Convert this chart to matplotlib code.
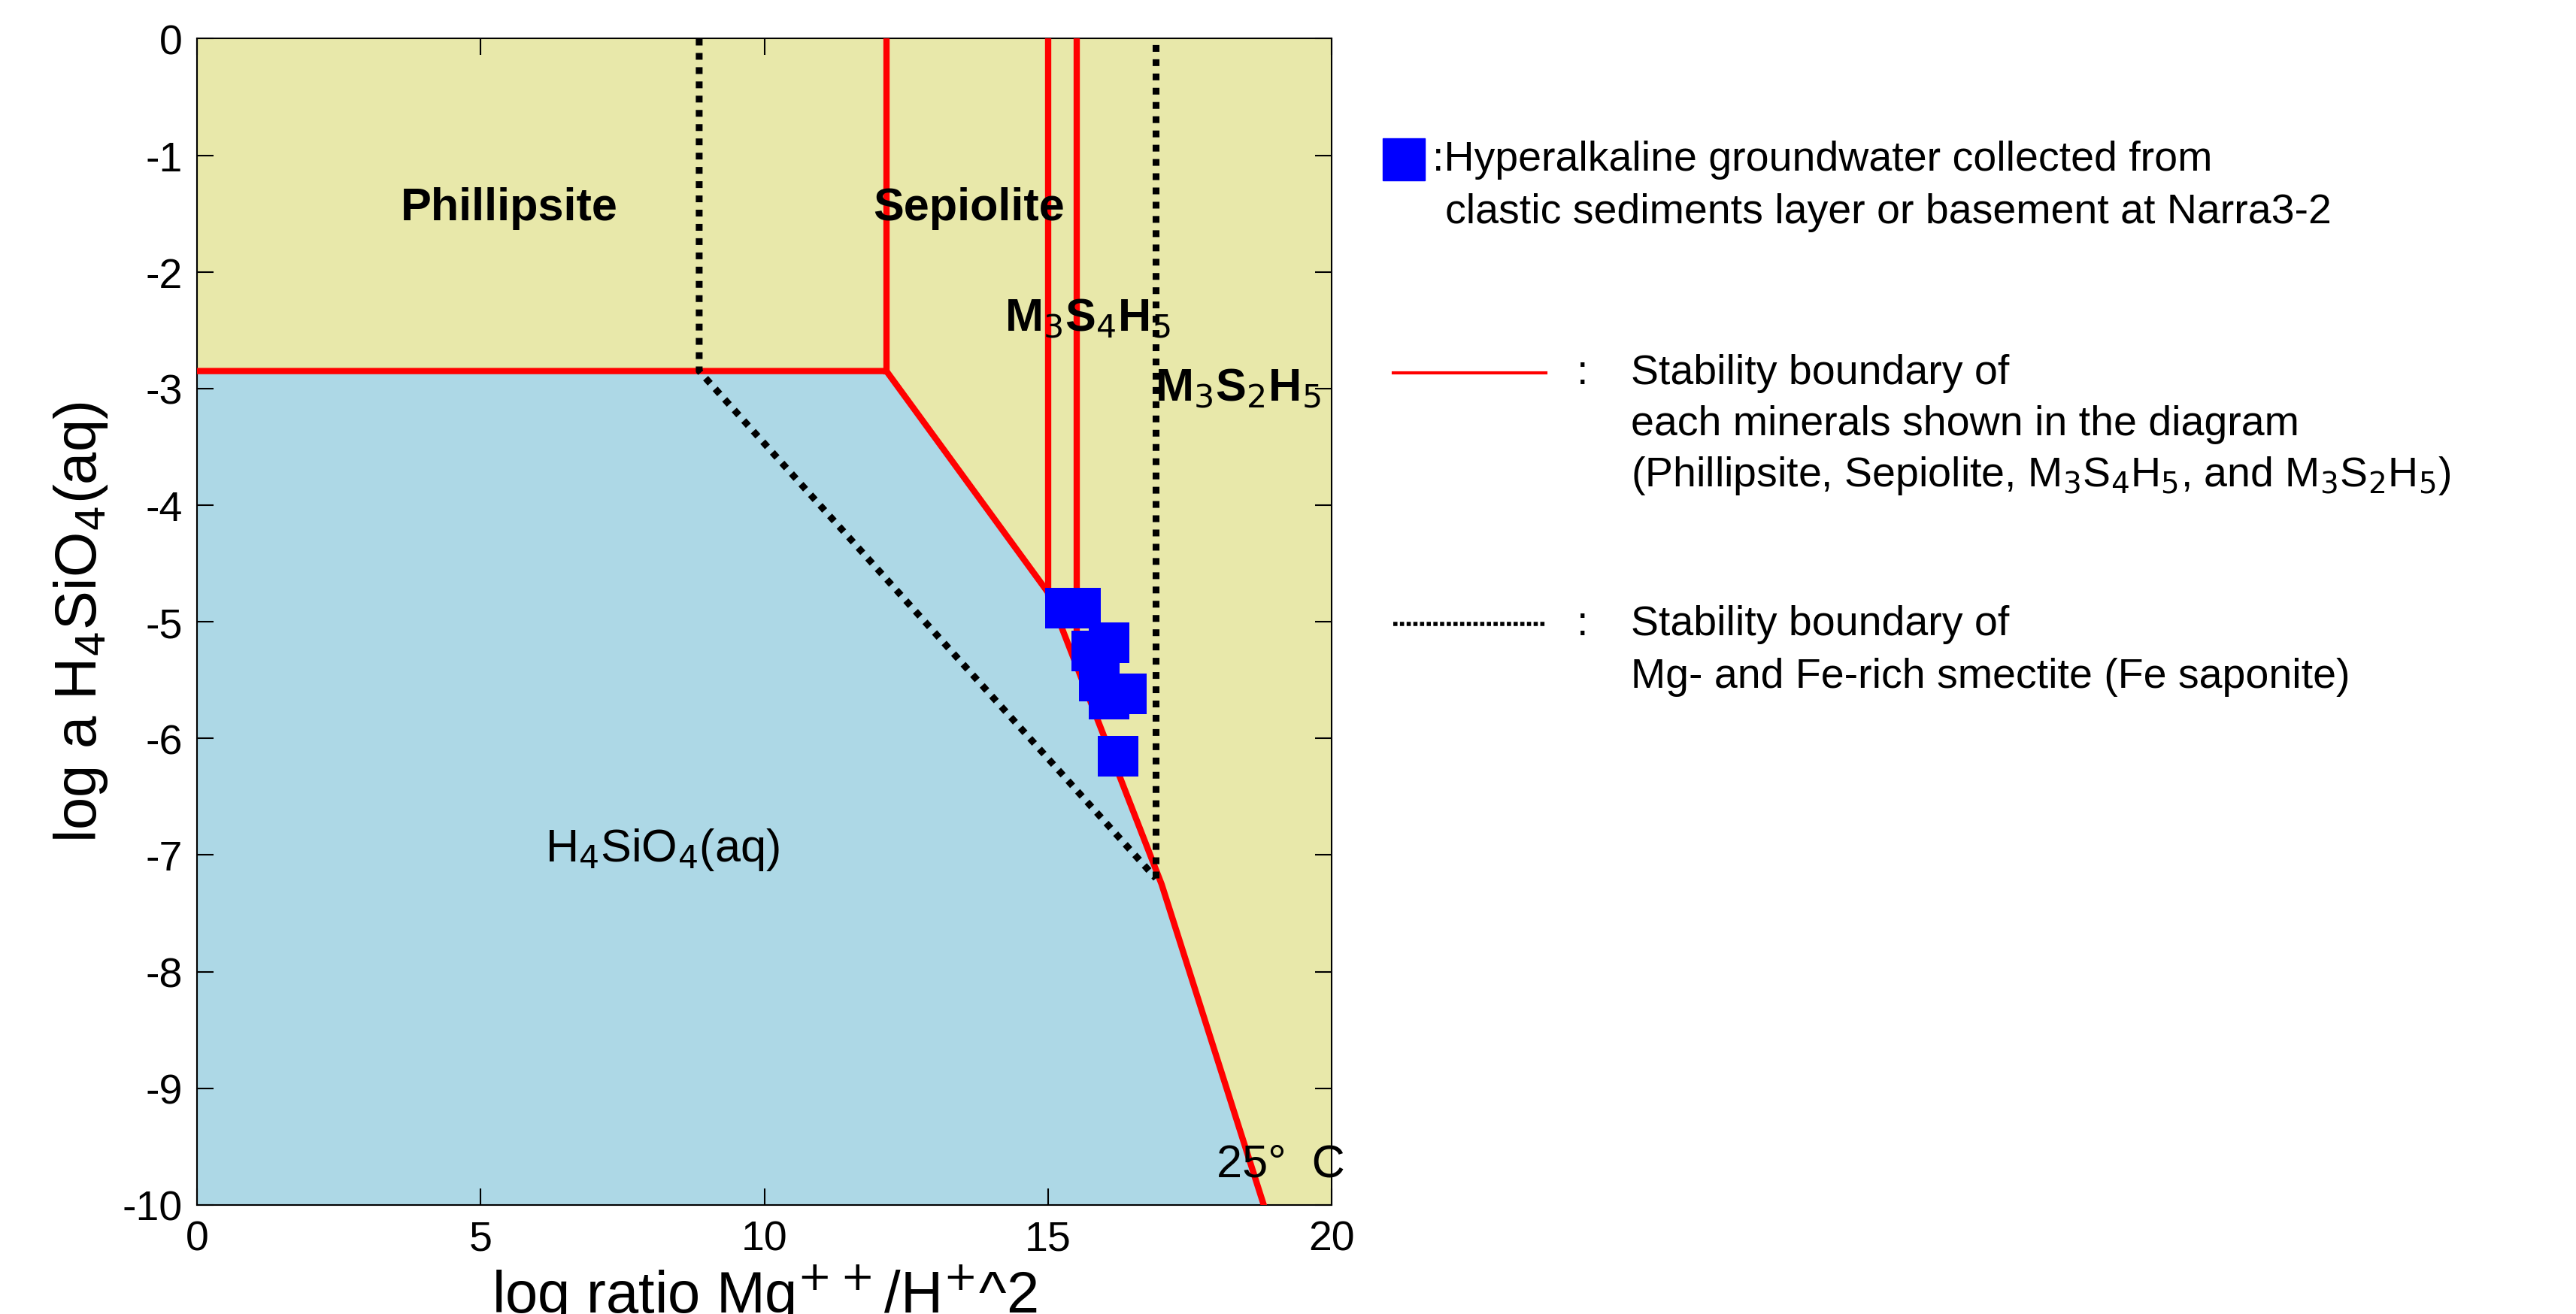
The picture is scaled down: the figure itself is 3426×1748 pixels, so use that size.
import matplotlib.pyplot as plt
from matplotlib.lines import Line2D

plt.rcParams['font.family'] = ['Liberation Sans', 'DejaVu Sans']
plt.rcParams['axes.unicode_minus'] = False

# boundary of the H4SiO4(aq) field (red)
bound_x = [0, 12.15, 15.0, 17.0, 18.8]
bound_y = [-2.85, -2.85, -4.75, -7.25, -10.0]
# other red boundaries (vertical)
sep_x, sep_y = [12.15, 12.15], [0, -2.85]
m34_x, m34_y = [15.0, 15.0], [0, -4.75]
m32_x, m32_y = [15.5, 15.5], [0, -5.36]
# smectite boundaries (dotted)
sm_x = [8.85, 8.85, 16.9, 16.9]
sm_y = [0, -2.85, -7.2, 0]
# groundwater samples
gw_x = [15.3, 15.57, 16.07, 15.77, 15.9, 16.38, 16.07, 16.23]
gw_y = [-4.88, -4.88, -5.18, -5.25, -5.51, -5.62, -5.66, -6.15]

fig = plt.figure(figsize=(34.26, 17.49), dpi=100)
ax = fig.add_axes([0.0765, 0.083, 0.4405, 0.887])

ax.fill_between([0, 20], -10, 0, color='#e8e8aa', zorder=0)
ax.fill(bound_x + [0], bound_y + [-10], color='#add8e6', zorder=1, lw=0)

red = dict(color='#ff0000', lw=6, zorder=3)
ax.plot(bound_x, bound_y, **red)
ax.plot(sep_x, sep_y, **red)
ax.plot(m34_x, m34_y, **red)
ax.plot(m32_x, m32_y, **red)
dot = dict(color='black', ls=(0, (1, 1.1)), lw=6.5, zorder=4)
ax.plot(sm_x[:3], sm_y[:3], **dot)
ax.plot(sm_x[2:], sm_y[2:], **dot)
ax.scatter(gw_x, gw_y, marker='s', s=39**2, color='#0000ff', zorder=5, lw=0)

bold = dict(fontsize=44, fontweight='bold', ha='center', va='center')
ax.text(5.5, -1.45, 'Phillipsite', **bold)
ax.text(13.6, -1.45, 'Sepiolite', **bold)
ax.text(15.7, -2.4, r'M$_3$S$_4$H$_5$', **bold)
ax.text(18.35, -3.0, r'M$_3$S$_2$H$_5$', **bold)
ax.text(8.2, -6.95, r'H$_4$SiO$_4$(aq)', fontsize=44, ha='center', va='center')
ax.text(19.1, -9.65, '25°  C', fontsize=44, ha='center', va='center')

ax.set_xlim(0, 20)
ax.set_ylim(-10, 0)
ax.set_xticks([0, 5, 10, 15, 20])
ax.set_yticks(range(-10, 1))
ax.tick_params(direction='in', top=True, right=True, length=16, width=1.5, labelsize=40, pad=14)
ax.set_xlabel(r'log ratio Mg$^{++}$/H$^{+}$^2', fontsize=56, labelpad=4)
ax.set_ylabel(r'log a H$_4$SiO$_4$(aq)', fontsize=56, labelpad=12)
for s in ax.spines.values():
    s.set_linewidth(1.5)

# legend drawn as text on the right
fs = 40
fig.add_artist(Line2D([0.545], [0.878], marker='s', ms=40, color='#0000ff', lw=0))
fig.text(0.556, 0.878, ':Hyperalkaline groundwater collected from', fontsize=fs, va='center')
fig.text(0.561, 0.838, 'clastic sediments layer or basement at Narra3-2', fontsize=fs, va='center')
fig.add_artist(Line2D([0.541, 0.600], [0.716, 0.716], color='#ff0000', lw=3))
fig.text(0.612, 0.716, ':', fontsize=fs, va='center')
fig.text(0.633, 0.716, 'Stability boundary of', fontsize=fs, va='center')
fig.text(0.633, 0.677, 'each minerals shown in the diagram', fontsize=fs, va='center')
fig.text(0.633, 0.638, r'(Phillipsite, Sepiolite, M$_3$S$_4$H$_5$, and M$_3$S$_2$H$_5$)', fontsize=fs, va='center')
fig.add_artist(Line2D([0.541, 0.600], [0.525, 0.525], color='black', lw=4, ls=(0, (1, 0.6))))
fig.text(0.612, 0.525, ':', fontsize=fs, va='center')
fig.text(0.633, 0.525, 'Stability boundary of', fontsize=fs, va='center')
fig.text(0.633, 0.485, 'Mg- and Fe-rich smectite (Fe saponite)', fontsize=fs, va='center')

fig.savefig('out.png', dpi=100)
